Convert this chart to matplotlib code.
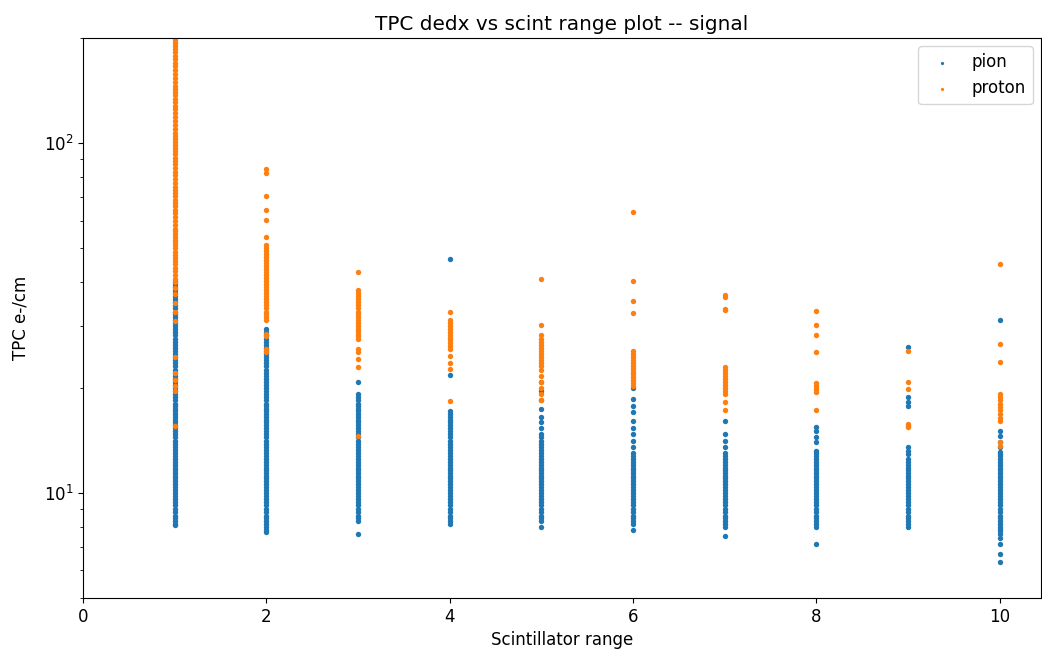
import matplotlib
matplotlib.use("Agg")
import matplotlib.pyplot as plt

# ---- data (TPC e-/cm per scintillator range) ----
scint_ranges = [1, 2, 3, 4, 5, 6, 7, 8, 9, 10]

pion_1 = [8.1, 8.15, 8.3, 8.45, 8.6, 8.8, 9.0, 9.2, 9.4, 9.6, 9.8, 10.0, 10.2, 10.4, 10.6,
          10.8, 11.0, 11.2, 11.4, 11.6, 11.8, 12.0, 12.25, 12.5, 12.75, 13.0, 13.25, 13.5,
          13.8, 14.1, 14.4, 14.7, 15.0, 15.3, 15.6, 15.9, 16.2, 16.5, 16.8, 17.1, 17.4, 17.7,
          18.0, 18.4, 18.8, 19.2, 19.6, 20.0, 20.4, 20.8, 21.2, 21.6, 22.0, 22.5, 23.0, 23.5,
          24.0, 24.5, 25.0, 25.5, 26.0, 26.5, 27.0, 27.6, 28.2, 28.8, 29.4, 30.0, 30.6, 31.2,
          31.8, 32.4, 33.0, 33.7, 34.4, 35.1, 35.8, 36.5, 37.2, 38.0, 38.8, 39.6, 40.4]
pion_2 = [7.7, 7.85, 8.0, 8.15, 8.3, 8.45, 8.6, 8.8, 9.0, 9.2, 9.4, 9.6, 9.8, 10.0, 10.2,
          10.4, 10.6, 10.8, 11.0, 11.2, 11.4, 11.6, 11.8, 12.0, 12.25, 12.5, 12.75, 13.0,
          13.25, 13.5, 13.8, 14.1, 14.4, 14.7, 15.0, 15.3, 15.6, 15.9, 16.2, 16.5, 16.8, 17.1,
          17.4, 17.7, 18.0, 18.4, 18.8, 19.2, 19.6, 20.0, 20.4, 20.8, 21.2, 21.6, 22.0, 22.5,
          23.0, 23.5, 24.0, 24.5, 25.0, 25.5, 26.0, 26.5, 27.0, 27.6, 28.2, 28.8, 29.4]
pion_3 = [7.6, 8.3, 8.45, 8.6, 8.8, 9.0, 9.2, 9.4, 9.6, 9.8, 10.0, 10.2, 10.4, 10.6, 10.8,
          11.0, 11.2, 11.4, 11.6, 11.8, 12.0, 12.25, 12.5, 12.75, 13.0, 13.25, 13.5, 13.8,
          14.1, 14.4, 14.7, 15.0, 15.3, 15.6, 15.9, 16.2, 16.5, 16.8, 17.1, 17.4, 17.7, 18.0,
          18.4, 18.8, 19.2, 20.8]
pion_4 = [8.15, 8.3, 8.45, 8.6, 8.8, 9.0, 9.2, 9.4, 9.6, 9.8, 10.0, 10.2, 10.4, 10.6, 10.8,
          11.0, 11.2, 11.4, 11.6, 11.8, 12.0, 12.25, 12.5, 12.75, 13.0, 13.25, 13.5, 13.8,
          14.1, 14.4, 14.7, 15.0, 15.3, 15.6, 15.9, 16.2, 16.5, 16.8, 17.1, 21.7, 46.5]
pion_5 = [8.0, 8.3, 8.45, 8.6, 8.8, 9.0, 9.2, 9.4, 9.6, 9.8, 10.0, 10.2, 10.4, 10.6, 10.8,
          11.0, 11.2, 11.4, 11.6, 11.8, 12.0, 12.25, 12.5, 12.75, 13.0, 13.25, 13.5, 13.8,
          14.1, 14.4, 14.7, 15.3, 15.9, 16.5, 17.4, 18.4, 19.6, 20.8]
pion_6 = [7.85, 8.15, 8.3, 8.45, 8.6, 8.8, 9.0, 9.2, 9.4, 9.6, 9.8, 10.0, 10.2, 10.4, 10.6,
          10.8, 11.0, 11.2, 11.4, 11.6, 11.8, 12.0, 12.25, 12.5, 12.75, 13.0, 13.5, 14.1,
          14.7, 15.3, 16.0, 17.0, 17.7, 18.6, 20.0]
pion_7 = [7.5, 8.0, 8.15, 8.3, 8.45, 8.6, 8.8, 9.0, 9.2, 9.4, 9.6, 9.8, 10.0, 10.2, 10.4,
          10.6, 10.8, 11.0, 11.2, 11.4, 11.6, 11.8, 12.0, 12.25, 12.5, 12.75, 13.0, 13.5,
          14.1, 14.7, 16.0]
pion_8 = [7.15, 8.0, 8.15, 8.3, 8.45, 8.6, 8.8, 9.0, 9.2, 9.4, 9.6, 9.8, 10.0, 10.2, 10.4,
          10.6, 10.8, 11.0, 11.2, 11.4, 11.6, 11.8, 12.0, 12.25, 12.5, 12.75, 13.0, 13.2,
          14.0, 14.4, 15.0, 15.4]
pion_9 = [8.0, 8.15, 8.3, 8.45, 8.6, 8.8, 9.0, 9.2, 9.4, 9.6, 9.8, 10.0, 10.2, 10.4, 10.6,
          10.8, 11.0, 11.2, 11.4, 11.6, 11.8, 12.0, 12.25, 12.5, 12.9, 13.2, 13.5, 15.5,
          17.7, 18.2, 18.8, 26.1]
pion_10 = [6.35, 6.7, 7.15, 7.4, 7.6, 7.75, 7.9, 8.0, 8.15, 8.3, 8.45, 8.6, 8.8, 9.0, 9.2,
           9.4, 9.6, 9.8, 10.0, 10.2, 10.4, 10.6, 10.8, 11.0, 11.2, 11.4, 11.6, 11.8, 12.0,
           12.25, 12.5, 12.75, 12.9, 13.1, 13.5, 14.0, 14.5, 15.0, 31.2]

proton_1 = [15.5, 19.5, 20.2, 21.0, 22.0, 24.5, 31.0, 33.0, 35.0, 37.0, 38.5, 40.0,
            41.0, 42.0, 43.0, 44.0, 45.0, 46.0, 47.0, 48.0, 49.0, 50.0, 51.0, 52.0, 53.0,
            54.0, 55.0, 56.0, 57.0, 58.5, 60.0, 61.5, 63.0, 64.5, 66.0, 67.5, 69.0, 70.5,
            72.0, 73.5, 75.0, 77.0, 79.0, 81.0, 83.0, 85.0, 87.0, 89.0, 91.0, 93.0, 95.0,
            97.0, 99.0, 101.0, 103.0, 105.0, 107.0, 110.0, 113.0, 116.0, 119.0, 122.0,
            125.0, 128.0, 131.0, 134.0, 137.0, 140.0, 143.0, 146.0, 150.0, 154.0, 158.0,
            162.0, 166.0, 170.0, 174.0, 178.0, 182.0, 186.0, 190.0, 194.0, 198.0, 202.0]
proton_2 = [25.3, 25.8, 28.0, 28.5, 31.2, 31.8, 32.4, 33.0, 33.7, 34.4, 35.1, 35.8, 36.5,
            37.2, 38.0, 38.8, 39.6, 40.4, 41.2, 42.0, 42.8, 43.7, 44.6, 45.5, 46.4, 47.3,
            48.2, 49.2, 50.2, 51.2, 54.0, 60.5, 64.5, 70.5, 82.0, 84.3]
proton_3 = [14.5, 22.9, 24.1, 25.2, 25.8, 27.5, 28.0, 28.5, 29.0, 29.5, 30.0, 30.6, 31.2,
            31.8, 32.4, 33.0, 33.7, 34.4, 35.1, 35.8, 36.5, 37.2, 38.0, 42.7]
proton_4 = [18.3, 22.6, 23.5, 24.6, 25.8, 26.3, 26.8, 27.3, 27.8, 28.3, 28.8, 29.4, 30.0,
            30.6, 31.2, 32.9]
proton_5 = [18.4, 19.2, 20.0, 20.8, 21.6, 22.5, 23.0, 23.5, 24.0, 24.5, 25.0, 25.5, 26.0,
            26.5, 27.0, 27.6, 28.2, 30.2, 40.8]
proton_6 = [20.2, 20.6, 21.0, 21.4, 21.8, 22.2, 22.6, 23.0, 23.5, 24.0, 24.5, 25.0, 25.5,
            32.7, 35.3, 40.3, 63.6]
proton_7 = [17.2, 18.2, 19.2, 19.6, 20.0, 20.4, 20.8, 21.2, 21.6, 22.0, 22.5, 22.9, 33.3,
            33.6, 36.2, 36.8]
proton_8 = [17.2, 19.4, 19.8, 20.2, 20.6, 25.3, 28.3, 30.2, 33.1]
proton_9 = [15.4, 15.7, 19.8, 20.7, 25.5]
proton_10 = [13.6, 14.0, 16.0, 16.4, 16.8, 17.2, 17.6, 18.0, 18.4, 18.8, 19.2, 23.7, 26.6, 45.1]

pion_cols = [pion_1, pion_2, pion_3, pion_4, pion_5, pion_6, pion_7, pion_8, pion_9, pion_10]
proton_cols = [proton_1, proton_2, proton_3, proton_4, proton_5, proton_6, proton_7,
               proton_8, proton_9, proton_10]

pion_x, pion_y = [], []
for r, col in zip(scint_ranges, pion_cols):
    pion_x += [r] * len(col)
    pion_y += col
proton_x, proton_y = [], []
for r, col in zip(scint_ranges, proton_cols):
    proton_x += [r] * len(col)
    proton_y += col

plt.rcParams["font.size"] = 12
fig = plt.figure(figsize=(10.42, 6.52), dpi=100)
ax = fig.add_axes([83 / 1042, 54 / 652, 958 / 1042, 560 / 652])
ax.scatter(pion_x, pion_y, s=15, color="#1f77b4", label="pion", linewidths=0)
ax.scatter(proton_x, proton_y, s=15, color="#ff7f0e", label="proton", linewidths=0)
ax.set_yscale("log")
ax.set_ylim(5, 200)
ax.set_xlim(0, 10.45)
ax.set_title("TPC dedx vs scint range plot -- signal", fontsize=14.4)
ax.set_xlabel("Scintillator range", fontsize=12)
ax.set_ylabel("TPC e-/cm", fontsize=12, labelpad=10)
ax.legend(loc="upper right", fontsize=12, markerscale=0.6)
fig.savefig("out.png", dpi=100)
